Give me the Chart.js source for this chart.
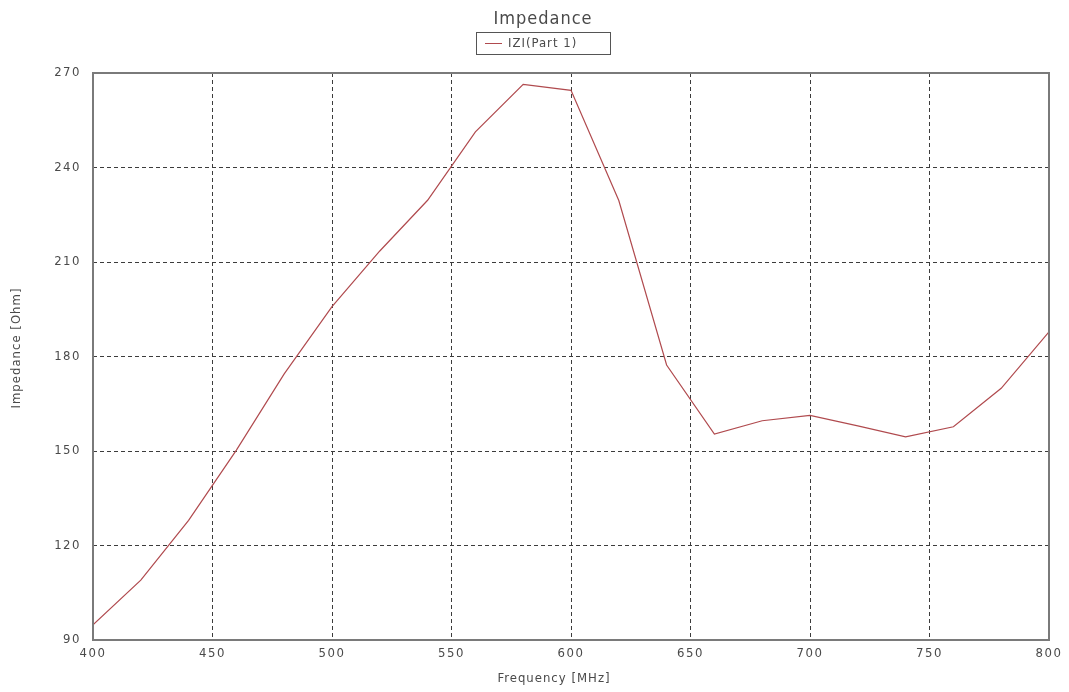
<!DOCTYPE html>
<html>
<head>
<meta charset="utf-8">
<title>Impedance</title>
<script src="https://cdn.jsdelivr.net/npm/chart.js@4.4.1/dist/chart.umd.min.js"></script>
<style>
  html, body { margin: 0; padding: 0; background: #ffffff; }
  #wrap { width: 1069px; height: 692px; position: relative; }
</style>
</head>
<body>
<div id="wrap"><canvas id="c" width="1069" height="692"></canvas></div>
<script>
// Frequency sweep (MHz) and |Z| of port 1 (Ohm)
const frequencies = [400, 420, 440, 460, 480, 500, 520, 540, 560, 580, 600,
                     620, 640, 660, 680, 700, 720, 740, 760, 780, 800];
const impedance = [94.8, 109, 128, 150.3, 174.5, 195.8, 213.5, 229.6, 251.3, 266.4, 264.5,
                   229.5, 177.3, 155.4, 159.6, 161.3, 158, 154.5, 157.7, 169.9, 187.8];
const xTicks = [400, 450, 500, 550, 600, 650, 700, 750, 800];
const yTicks = [90, 120, 150, 180, 210, 240, 270];

const chartTitle = 'Impedance';
const seriesName = 'IZI(Part 1)';
const xTitle = 'Frequency [MHz]';
const yTitle = 'Impedance [Ohm]';

const FONT = '"DejaVu Sans Condensed", "DejaVu Sans", sans-serif';
const TEXT = '#4a4a4a';
const LINE = '#b04a4e';

const points = frequencies.map((f, i) => ({ x: f, y: impedance[i] }));

// Title, legend box, axis titles and plot frame
const decorations = {
  id: 'decorations',
  beforeDraw(chart) {
    chart.ctx.letterSpacing = '1.5px';
  },
  afterDraw(chart) {
    const ctx = chart.ctx;
    const a = chart.chartArea;
    ctx.save();
    ctx.letterSpacing = '1px';
    ctx.fillStyle = TEXT;
    ctx.textAlign = 'center';
    ctx.textBaseline = 'middle';
    ctx.font = '18px ' + FONT;
    ctx.fillText(chartTitle, 543, 19);

    // legend
    ctx.strokeStyle = '#555';
    ctx.lineWidth = 1;
    ctx.strokeRect(476.5, 32.5, 134, 22);
    ctx.strokeStyle = LINE;
    ctx.beginPath();
    ctx.moveTo(485, 43.5);
    ctx.lineTo(502, 43.5);
    ctx.stroke();
    ctx.font = '13px ' + FONT;
    ctx.textAlign = 'left';
    ctx.fillText(seriesName, 508, 44);

    // axis titles
    ctx.textAlign = 'center';
    ctx.font = '13px ' + FONT;
    ctx.fillText(xTitle, 554, 679);
    ctx.translate(17, 348);
    ctx.rotate(-Math.PI / 2);
    ctx.fillText(yTitle, 0, 0);
    ctx.restore();

    // frame around the plot area
    ctx.save();
    ctx.strokeStyle = '#7a7a7a';
    ctx.lineWidth = 2;
    ctx.strokeRect(a.left, a.top, a.right - a.left, a.bottom - a.top);
    ctx.restore();
  }
};

new Chart(document.getElementById('c'), {
  type: 'line',
  data: {
    datasets: [{
      label: seriesName,
      data: points,
      borderColor: LINE,
      borderWidth: 1.2,
      pointRadius: 0,
      tension: 0,
      fill: false
    }]
  },
  options: {
    responsive: false,
    animation: false,
    devicePixelRatio: 1,
    layout: { padding: { top: 73, right: 20, bottom: 0, left: 0 } },
    plugins: {
      legend: { display: false },
      title: { display: false },
      tooltip: { enabled: false }
    },
    scales: {
      x: {
        type: 'linear',
        min: 400,
        max: 800,
        afterFit(scale) { scale.height = 52; },
        afterBuildTicks(scale) { scale.ticks = xTicks.map(v => ({ value: v })); },
        ticks: {
          color: TEXT,
          font: { family: FONT, size: 13 },
          padding: 6,
          maxRotation: 0,
          autoSkip: false
        },
        grid: { color: '#3c3c3c', lineWidth: 1, drawTicks: false },
        border: { display: false, dash: [4, 3] }
      },
      y: {
        type: 'linear',
        min: 90,
        max: 270,
        afterFit(scale) { scale.width = 93; },
        afterBuildTicks(scale) { scale.ticks = yTicks.map(v => ({ value: v })); },
        ticks: {
          color: TEXT,
          font: { family: FONT, size: 13 },
          padding: 12,
          autoSkip: false
        },
        grid: { color: '#3c3c3c', lineWidth: 1, drawTicks: false },
        border: { display: false, dash: [4, 3] }
      }
    }
  },
  plugins: [decorations]
});
</script>
</body>
</html>
